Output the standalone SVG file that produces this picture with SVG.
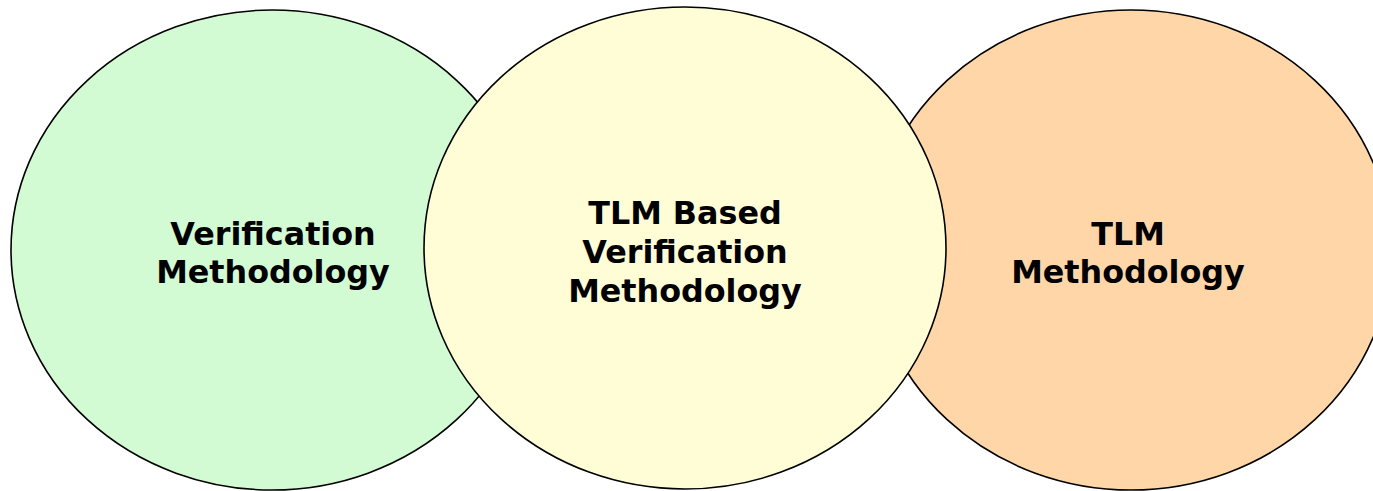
<svg xmlns="http://www.w3.org/2000/svg" width="1373" height="491" viewBox="0 0 1373 491">
<style>
.c{stroke:#000;stroke-width:1.6}
.t{font-family:"DejaVu Sans",Verdana,sans-serif;font-weight:bold;font-size:31.8px;fill:#000;text-anchor:middle}
</style>
<rect width="1373" height="491" fill="#fff"/>
<g id="verification">
<ellipse class="c" cx="272" cy="250" rx="261" ry="240" fill="#D3FBD3"/>
<text class="t" x="273" y="245">Verification</text>
<text class="t" x="273" y="283">Methodology</text>
</g>
<g id="tlm">
<ellipse class="c" cx="1131" cy="250" rx="260" ry="240" fill="#FFD6A8"/>
<text class="t" x="1128" y="245">TLM</text>
<text class="t" x="1128" y="283">Methodology</text>
</g>
<g id="tlm-based">
<ellipse class="c" cx="685" cy="248" rx="261" ry="241" fill="#FFFDD6"/>
<text class="t" x="685" y="224">TLM Based</text>
<text class="t" x="685" y="263">Verification</text>
<text class="t" x="685" y="302">Methodology</text>
</g>
<g id="connectors"/>
</svg>
